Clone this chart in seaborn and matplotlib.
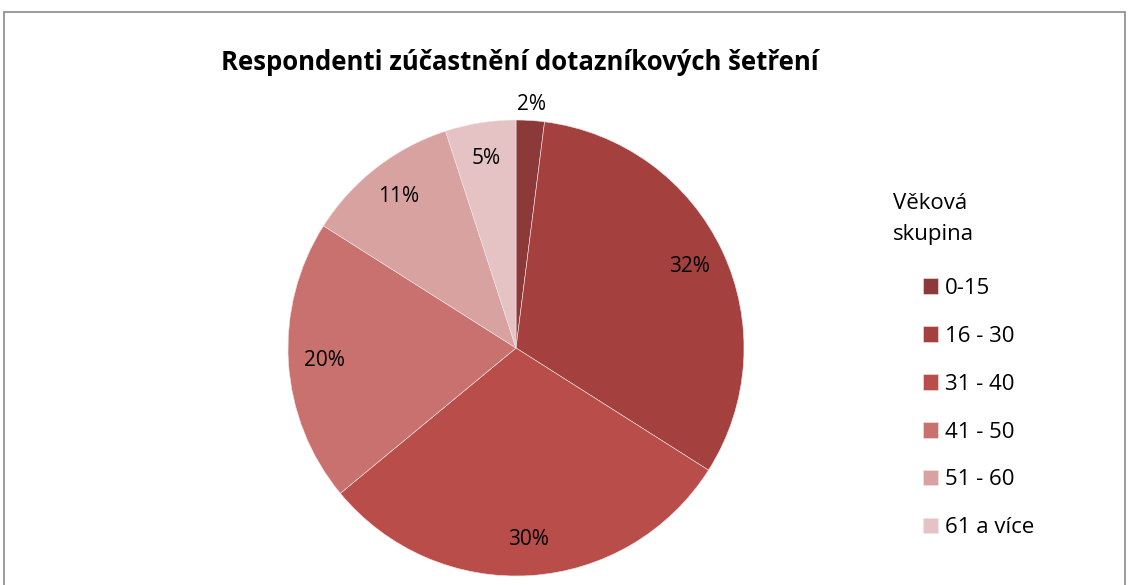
import numpy as np
import matplotlib
matplotlib.use("Agg")
import matplotlib.pyplot as plt
from matplotlib.patches import Rectangle
import seaborn as sns

sns.set_theme(style="white")
plt.rcParams["font.family"] = ["Open Sans", "DejaVu Sans"]
plt.rcParams["text.color"] = "black"

# ---------------------------------------------------------
# Data
# ---------------------------------------------------------
groups = ["0-15", "16 - 30", "31 - 40", "41 - 50", "51 - 60", "61 a více"]
shares = [2, 32, 30, 20, 11, 5]
colors = ["#8c3a39", "#a4403e", "#b94d4a", "#c9716f", "#d8a2a1", "#e5c3c4"]

title = "Respondenti zúčastnění dotazníkových šetření"
legend_title = "Věková\nskupina"

# ---------------------------------------------------------
# Figure
# ---------------------------------------------------------
W, H = 1129, 585
fig = plt.figure(figsize=(W / 100, H / 100), dpi=100)

# outer chart border (only top, left, right visible)
fig.patches.append(Rectangle((4 / W, -0.1), (1125 - 4) / W, 1.1 - 12 / H,
                             transform=fig.transFigure, fill=False,
                             edgecolor="#8a8a8a", linewidth=1.2))

cx, cy, r = 516, 348, 228
ax = fig.add_axes([(cx - r) / W, (H - cy - r) / H, 2 * r / W, 2 * r / H])

wedges, texts, autotexts = ax.pie(
    shares,
    colors=colors,
    startangle=90,
    counterclock=False,
    autopct="%1.0f%%",
    pctdistance=0.84,
    wedgeprops=dict(edgecolor="#f4e6e6", linewidth=0.4),
    textprops=dict(fontsize=15, color="black"),
)

# small slice label sits outside the pie
w0 = wedges[0]
ang = np.deg2rad((w0.theta1 + w0.theta2) / 2)
autotexts[0].set_position((1.07 * np.cos(ang), 1.07 * np.sin(ang)))

ax.set_xlim(-1, 1)
ax.set_ylim(-1, 1)
ax.set_aspect("equal")
ax.axis("off")

fig.text(520 / W, 1 - 63 / H, title, ha="center", va="center",
         fontsize=18.5, fontweight="bold", color="black")

fig.text(893 / W, 1 - 219 / H, legend_title, ha="left", va="center",
         fontsize=16, linespacing=1.65, color="black")

fig.legend(wedges, groups, loc="upper left",
           bbox_to_anchor=(914 / W, 1 - 269 / H),
           frameon=False, fontsize=16,
           handlelength=0.7, handleheight=0.7, handletextpad=0.3,
           labelspacing=1.21, borderaxespad=0)

fig.savefig("out.png", dpi=100)
